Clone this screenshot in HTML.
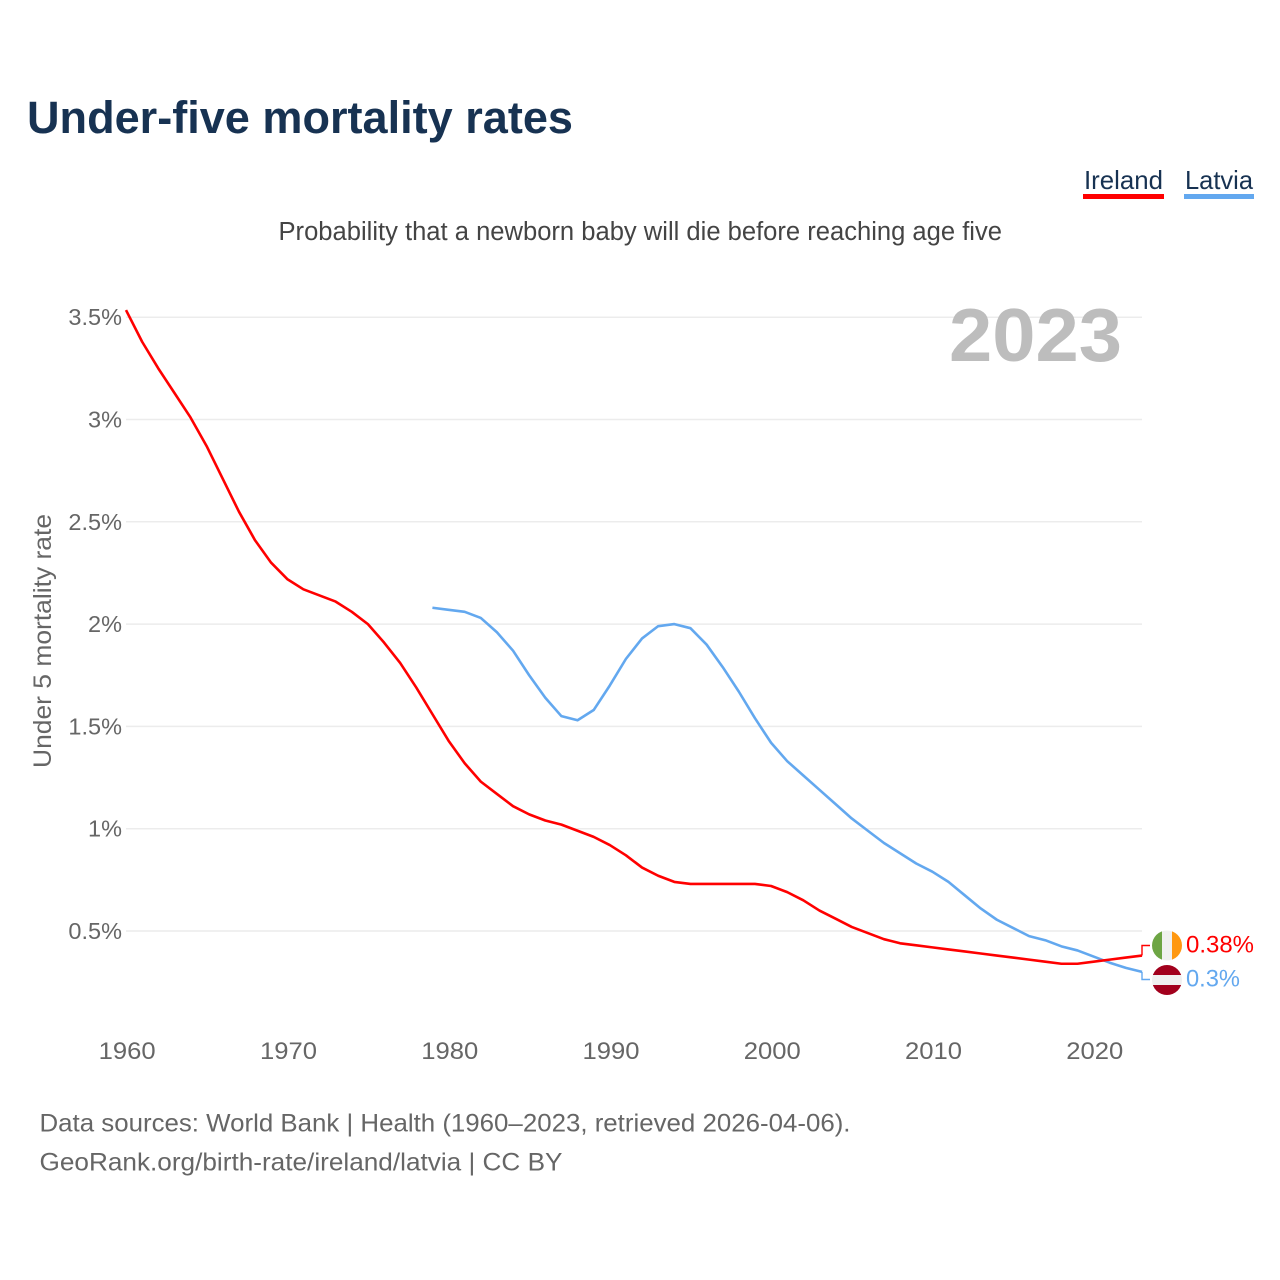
<!DOCTYPE html>
<html>
<head>
<meta charset="utf-8">
<title>Under-five mortality rates</title>
<style>
html,body{margin:0;padding:0;background:#fff;}
svg{display:block;font-family:"Liberation Sans",sans-serif;}
</style>
</head>
<body>
<svg id="chart" width="1280" height="1280" viewBox="0 0 1280 1280" xmlns="http://www.w3.org/2000/svg">
  <rect width="1280" height="1280" fill="#ffffff"/>
  <text x="27" y="133" font-size="45" font-weight="700" fill="#173252" textLength="546" lengthAdjust="spacingAndGlyphs">Under-five mortality rates</text>
  <text x="1084" y="189" font-size="26" fill="#173252" textLength="79" lengthAdjust="spacingAndGlyphs">Ireland</text>
  <rect x="1083" y="194" width="81" height="5" fill="#ff0000"/>
  <text x="1185" y="189" font-size="26" fill="#173252" textLength="68" lengthAdjust="spacingAndGlyphs">Latvia</text>
  <rect x="1184" y="194" width="70" height="5" fill="#63a8ef"/>
  <text x="278.5" y="240" font-size="25.5" fill="#444444" textLength="723.5" lengthAdjust="spacingAndGlyphs">Probability that a newborn baby will die before reaching age five</text>
  <g id="grid"></g>
  <text x="949" y="361" font-size="75" font-weight="700" fill="#bdbdbd" textLength="173" lengthAdjust="spacingAndGlyphs">2023</text>
  <g id="yticks"></g>
  <g id="xticks"></g>
  <text transform="translate(51,641) rotate(-90)" text-anchor="middle" font-size="25" fill="#666666" textLength="254" lengthAdjust="spacingAndGlyphs">Under 5 mortality rate</text>
  <g id="series"></g>
  <g>
    <clipPath id="clip-ie"><circle cx="1167" cy="945.5" r="15"/></clipPath>
    <g clip-path="url(#clip-ie)">
      <rect x="1152" y="930" width="10" height="31" fill="#6da544"/>
      <rect x="1162" y="930" width="10" height="31" fill="#f0f0f0"/>
      <rect x="1172" y="930" width="10" height="31" fill="#ff9811"/>
    </g>
  </g>
  <g>
    <clipPath id="clip-lv"><circle cx="1167" cy="980" r="15"/></clipPath>
    <g clip-path="url(#clip-lv)">
      <rect x="1152" y="965" width="30" height="10" fill="#a2001d"/>
      <rect x="1152" y="975" width="30" height="10" fill="#f0f0f0"/>
      <rect x="1152" y="985" width="30" height="10" fill="#a2001d"/>
    </g>
  </g>
  <text id="label-ie" x="1186" y="952.5" font-size="24" fill="#ff0000" textLength="68" lengthAdjust="spacingAndGlyphs"></text>
  <text id="label-lv" x="1186" y="986.5" font-size="24" fill="#63a8ef" textLength="54" lengthAdjust="spacingAndGlyphs"></text>
  <text x="39.5" y="1131.5" font-size="25" fill="#666666" textLength="811" lengthAdjust="spacingAndGlyphs">Data sources: World Bank | Health (1960–2023, retrieved 2026-04-06).</text>
  <text x="39.5" y="1170.5" font-size="25" fill="#666666" textLength="523" lengthAdjust="spacingAndGlyphs">GeoRank.org/birth-rate/ireland/latvia | CC BY</text>
</svg>
<script>
const yTickValues = [0.5, 1, 1.5, 2, 2.5, 3, 3.5];
const xTickYears = [1960, 1970, 1980, 1990, 2000, 2010, 2020];
const irelandStartYear = 1960;
const irelandValues = [3.535,3.38,3.25,3.13,3.01,2.87,2.71,2.55,2.41,2.30,2.22,2.17,2.14,2.11,2.06,2.00,1.91,1.81,1.69,1.56,1.43,1.32,1.23,1.17,1.11,1.07,1.04,1.02,0.99,0.96,0.92,0.87,0.81,0.77,0.74,0.73,0.73,0.73,0.73,0.73,0.72,0.69,0.65,0.60,0.56,0.52,0.49,0.46,0.44,0.43,0.42,0.41,0.40,0.39,0.38,0.37,0.36,0.35,0.34,0.34,0.35,0.36,0.37,0.38];
const latviaStartYear = 1979;
const latviaValues = [2.08,2.07,2.06,2.03,1.96,1.87,1.75,1.64,1.55,1.53,1.58,1.70,1.83,1.93,1.99,2.00,1.98,1.90,1.79,1.67,1.54,1.42,1.33,1.26,1.19,1.12,1.05,0.99,0.93,0.88,0.83,0.79,0.74,0.675,0.61,0.555,0.515,0.475,0.455,0.425,0.405,0.375,0.345,0.32,0.30];

const NS = 'http://www.w3.org/2000/svg';
const xScale = function (year) { return 126 + (year - 1960) * (1142 - 126) / 63; };
const yScale = function (v) { return 1033.3 - v * 204.6; };

function make(tag, attrs, parent) {
  const el = document.createElementNS(NS, tag);
  Object.keys(attrs).forEach(function (k) { el.setAttribute(k, attrs[k]); });
  parent.appendChild(el);
  return el;
}

const gridG = document.getElementById('grid');
const yG = document.getElementById('yticks');
const xG = document.getElementById('xticks');
const seriesG = document.getElementById('series');

yTickValues.forEach(function (v) {
  const line = make('line', {x1: 126, x2: 1142, y1: yScale(v), y2: yScale(v), stroke: '#ececec', 'stroke-width': 1.5}, gridG);
  
  
  const t = make('text', {x: 122, y: yScale(v) + 8, 'text-anchor': 'end', 'font-size': 23.5, fill: '#666666'}, yG);
  
  
  t.textContent = v + '%';
});

xTickYears.forEach(function (year) {
  const t = make('text', {x: xScale(year) + 1.2, y: 1059, 'text-anchor': 'middle', 'font-size': 24.5, fill: '#666666', textLength: 57, lengthAdjust: 'spacingAndGlyphs'}, xG);
  
  
  t.textContent = year;
});

function pathFor(startYear, values) {
  return values.map(function (v, i) {
    return (i ? 'L' : 'M') + xScale(startYear + i).toFixed(2) + ' ' + yScale(v).toFixed(2);
  }).join(' ');
}

const latviaLine = make('path', {d: pathFor(latviaStartYear, latviaValues), fill: 'none', stroke: '#63a8ef', 'stroke-width': 2.6, 'stroke-linejoin': 'round'}, seriesG);



const irelandLine = make('path', {d: pathFor(irelandStartYear, irelandValues), fill: 'none', stroke: '#ff0000', 'stroke-width': 2.6, 'stroke-linejoin': 'round'}, seriesG);



const lastIE = irelandValues[irelandValues.length - 1];
const lastLV = latviaValues[latviaValues.length - 1];
const endX = xScale(2023);

const connIE = make('path', {d: 'M' + endX + ' ' + yScale(lastIE) + ' V945.5 H1150', fill: 'none', stroke: '#ff0000', 'stroke-width': 1.4}, seriesG);



const connLV = make('path', {d: 'M' + endX + ' ' + yScale(lastLV) + ' V979.5 H1150', fill: 'none', stroke: '#63a8ef', 'stroke-width': 1.4}, seriesG);



document.getElementById('label-ie').textContent = lastIE + '%';
document.getElementById('label-lv').textContent = lastLV + '%';
</script>
</body>
</html>
